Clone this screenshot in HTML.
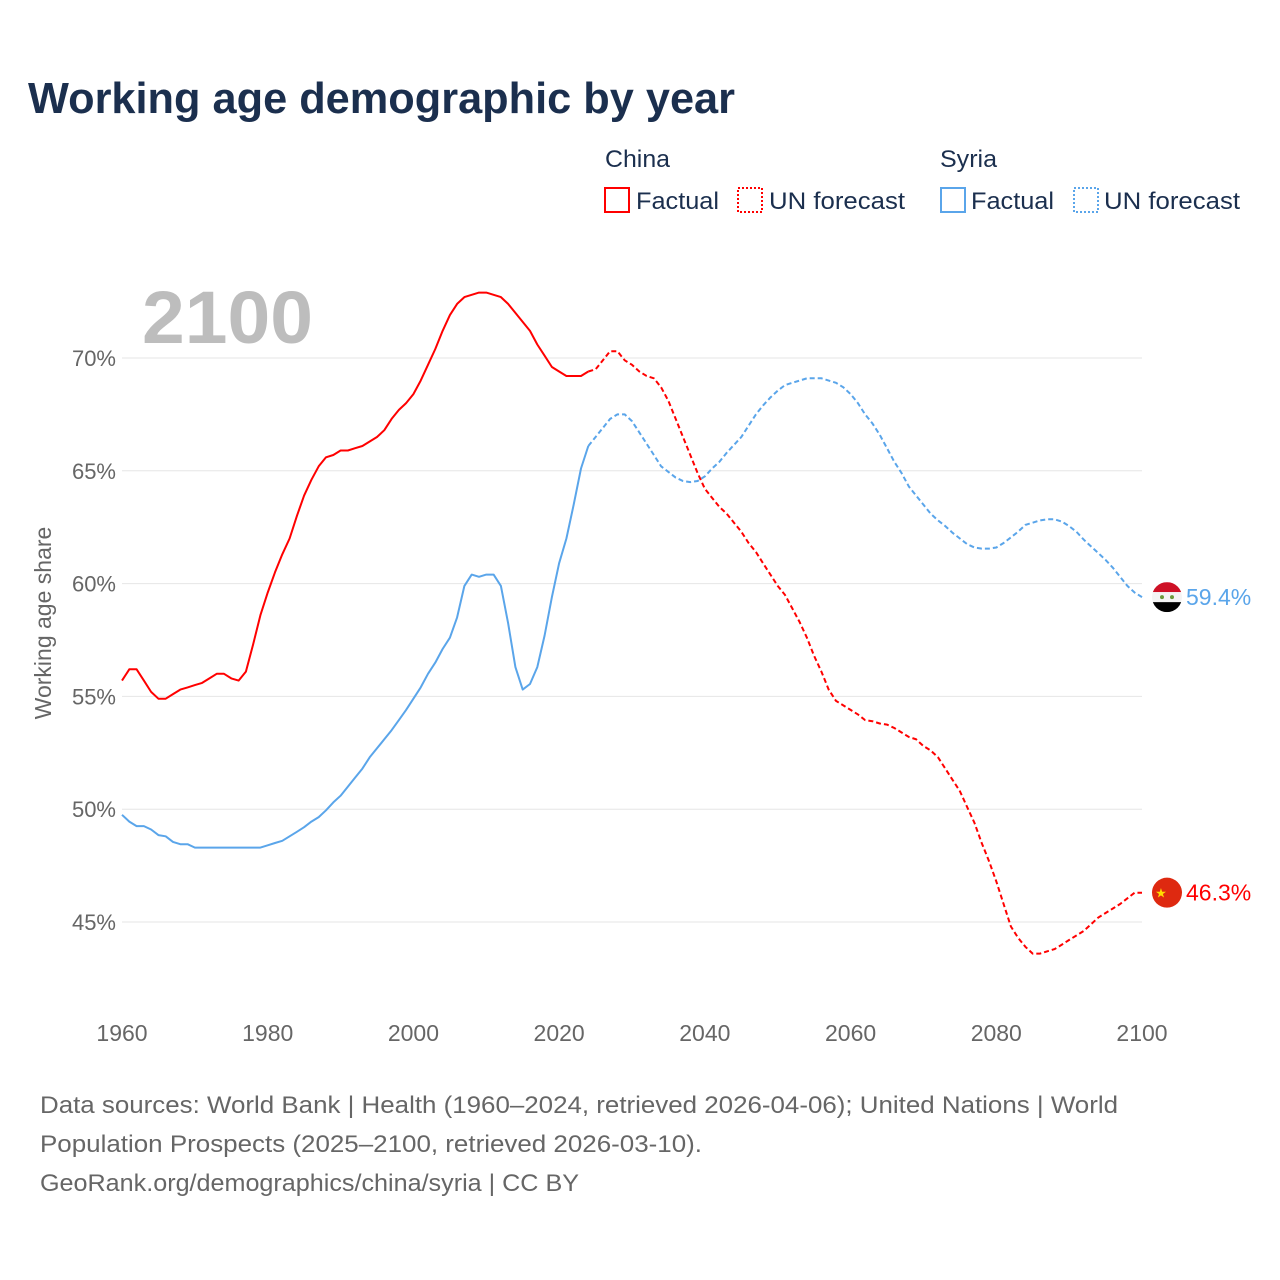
<!DOCTYPE html>
<html><head><meta charset="utf-8"><style>
body{margin:0;background:#fff;width:1280px;height:1280px;overflow:hidden;font-family:"Liberation Sans",sans-serif}
svg{display:block}
</style></head><body>
<svg id="chart" width="1280" height="1280" viewBox="0 0 1280 1280">
<text x="28" y="113" font-size="44" font-weight="bold" fill="#1b2f4e" textLength="707" lengthAdjust="spacingAndGlyphs">Working age demographic by year</text>
<g font-size="24" fill="#1b2f4e">
<text x="605" y="167" textLength="65" lengthAdjust="spacingAndGlyphs">China</text>
<rect x="605" y="188" width="24" height="24" fill="none" stroke="#ff0000" stroke-width="2"/>
<text x="636" y="209" textLength="83" lengthAdjust="spacingAndGlyphs">Factual</text>
<rect x="738" y="188" width="24" height="24" fill="none" stroke="#ff0000" stroke-width="2" stroke-dasharray="2,2"/>
<text x="769" y="209" textLength="136" lengthAdjust="spacingAndGlyphs">UN forecast</text>
<text x="940" y="167" textLength="57" lengthAdjust="spacingAndGlyphs">Syria</text>
<rect x="941" y="188" width="24" height="24" fill="none" stroke="#5aa5ea" stroke-width="2"/>
<text x="971" y="209" textLength="83" lengthAdjust="spacingAndGlyphs">Factual</text>
<rect x="1074" y="188" width="24" height="24" fill="none" stroke="#5aa5ea" stroke-width="2" stroke-dasharray="2,2"/>
<text x="1104" y="209" textLength="136" lengthAdjust="spacingAndGlyphs">UN forecast</text>
</g>
<text x="142" y="343" font-size="74" font-weight="bold" fill="#bdbdbd" textLength="171" lengthAdjust="spacingAndGlyphs">2100</text>
<text transform="translate(51,623) rotate(-90)" text-anchor="middle" font-size="23" fill="#666">Working age share</text>
<g id="grid"></g><g id="series"></g><g id="ends"></g>
<g font-size="24" fill="#666">
<text x="40" y="1113" textLength="1078" lengthAdjust="spacingAndGlyphs">Data sources: World Bank | Health (1960–2024, retrieved 2026-04-06); United Nations | World</text>
<text x="40" y="1152" textLength="662" lengthAdjust="spacingAndGlyphs">Population Prospects (2025–2100, retrieved 2026-03-10).</text>
<text x="40" y="1191" textLength="539" lengthAdjust="spacingAndGlyphs">GeoRank.org/demographics/china/syria | CC BY</text>
</g>
</svg>
<script>
const startYear = 1960;
const forecastStart = 2025;
const yTicks = [45, 50, 55, 60, 65, 70];
const xTicks = [1960, 1980, 2000, 2020, 2040, 2060, 2080, 2100];
const chinaValues = [55.7,56.2,56.2,55.7,55.2,54.9,54.9,55.1,55.3,55.4,55.5,55.6,55.8,56.0,56.0,55.8,55.7,56.1,57.3,58.6,59.6,60.5,61.3,62.0,63.0,63.9,64.6,65.2,65.6,65.7,65.9,65.9,66.0,66.1,66.3,66.5,66.8,67.3,67.7,68.0,68.4,69.0,69.7,70.4,71.2,71.9,72.4,72.7,72.8,72.9,72.9,72.8,72.7,72.4,72.0,71.6,71.2,70.6,70.1,69.6,69.4,69.2,69.2,69.2,69.4,
69.5,69.9,70.3,70.3,69.9,69.7,69.4,69.2,69.1,68.7,68.1,67.3,66.5,65.7,64.9,64.2,63.8,63.4,63.1,62.7,62.3,61.8,61.4,60.9,60.4,59.9,59.5,58.9,58.3,57.6,56.8,56.1,55.3,54.8,54.6,54.4,54.2,53.95,53.9,53.8,53.75,53.6,53.4,53.2,53.1,52.8,52.6,52.3,51.8,51.3,50.8,50.1,49.4,48.5,47.7,46.8,45.8,44.8,44.3,43.9,43.6,43.6,43.7,43.8,44.0,44.2,44.4,44.6,44.9,45.2,45.4,45.6,45.8,46.05,46.3,46.3];
const syriaValues = [49.75,49.45,49.25,49.25,49.1,48.85,48.8,48.55,48.45,48.45,48.3,48.3,48.3,48.3,48.3,48.3,48.3,48.3,48.3,48.3,48.4,48.5,48.6,48.8,49.0,49.2,49.45,49.65,49.95,50.3,50.6,51.0,51.4,51.8,52.3,52.7,53.1,53.5,53.95,54.4,54.9,55.4,56.0,56.5,57.1,57.6,58.5,59.9,60.4,60.3,60.4,60.4,59.9,58.25,56.3,55.3,55.55,56.3,57.7,59.4,60.9,62.0,63.5,65.1,66.1,
66.5,66.9,67.3,67.5,67.5,67.2,66.7,66.2,65.7,65.2,64.95,64.7,64.55,64.5,64.55,64.75,65.1,65.4,65.8,66.15,66.5,67.0,67.5,67.9,68.25,68.55,68.8,68.9,69.0,69.1,69.1,69.1,69.0,68.9,68.7,68.4,68.0,67.5,67.1,66.6,66.0,65.4,64.9,64.3,63.9,63.5,63.1,62.8,62.55,62.25,62.0,61.75,61.6,61.55,61.55,61.6,61.8,62.05,62.3,62.6,62.7,62.8,62.85,62.85,62.75,62.55,62.3,61.95,61.65,61.35,61.05,60.7,60.3,59.9,59.6,59.4];

const NS="http://www.w3.org/2000/svg";
const X = y => 122 + (y - 1960) * (1020 / 140);
const Y = v => 922 - (v - 45) * 22.56;
function mk(tag, attrs, parent){const e=document.createElementNS(NS,tag);for(const k in attrs)e.setAttribute(k,attrs[k]);parent.appendChild(e);return e;}
const grid=document.getElementById('grid');
yTicks.forEach(t=>{
  const l=mk('line',{x1:122,x2:1142,y1:Y(t),y2:Y(t),stroke:'#e6e6e6','stroke-width':1},grid);
  
  
  const tx=mk('text',{x:116,y:Y(t)+8,'text-anchor':'end','font-size':22,fill:'#666'},grid);
  tx.textContent=t+'%';
  
  
});
xTicks.forEach(t=>{
  const tx=mk('text',{x:X(t),y:1041,'text-anchor':'middle','font-size':23,fill:'#666'},grid);
  tx.textContent=t;
  
  
});
const ser=document.getElementById('series');
function draw(vals,color,name){
  const fi=forecastStart-startYear;
  const f=vals.slice(0,fi).map((v,i)=>X(startYear+i).toFixed(1)+','+Y(v).toFixed(1)).join(' ');
  const p=vals.slice(fi-1).map((v,i)=>X(forecastStart-1+i).toFixed(1)+','+Y(v).toFixed(1)).join(' ');
  const a=mk('polyline',{points:f,fill:'none',stroke:color,'stroke-width':2,'stroke-linejoin':'round'},ser);
  
  
  const b=mk('polyline',{points:p,fill:'none',stroke:color,'stroke-width':2,'stroke-dasharray':'5,3'},ser);
  
  
}
draw(syriaValues,'#5aa5ea','syria');
draw(chinaValues,'#ff0000','china');
const ends=document.getElementById('ends');
const sy=Y(syriaValues[syriaValues.length-1]);
const sg=mk('g',{},ends);


const defs=mk('defs',{},sg);
const cp=mk('clipPath',{id:'cs'},defs);
mk('circle',{cx:1167,cy:sy,r:15},cp);
mk('rect',{x:1152,y:sy-15,width:30,height:10,fill:'#ce1126','clip-path':'url(#cs)'},sg);
mk('rect',{x:1152,y:sy-5,width:30,height:10,fill:'#f4f4f4','clip-path':'url(#cs)'},sg);
mk('rect',{x:1152,y:sy+5,width:30,height:10,fill:'#000','clip-path':'url(#cs)'},sg);
mk('circle',{cx:1162,cy:sy,r:2,fill:'#6a9a3a'},sg);mk('circle',{cx:1172,cy:sy,r:2,fill:'#6a9a3a'},sg);
const sl=mk('text',{x:1186,y:sy+8,'font-size':23,fill:'#5aa5ea'},ends);
sl.textContent=syriaValues[syriaValues.length-1].toFixed(1)+'%';


const cy=Y(chinaValues[chinaValues.length-1]);
const cg=mk('g',{},ends);


mk('circle',{cx:1167,cy:cy,r:15,fill:'#de2910'},cg);
const st=mk('text',{x:1161,y:cy+5,'font-size':13,fill:'#ffde00','text-anchor':'middle'},cg);st.textContent='★';
const cl=mk('text',{x:1186,y:cy+8,'font-size':23,fill:'#ff0000'},ends);
cl.textContent=chinaValues[chinaValues.length-1].toFixed(1)+'%';


</script>
</body></html>
